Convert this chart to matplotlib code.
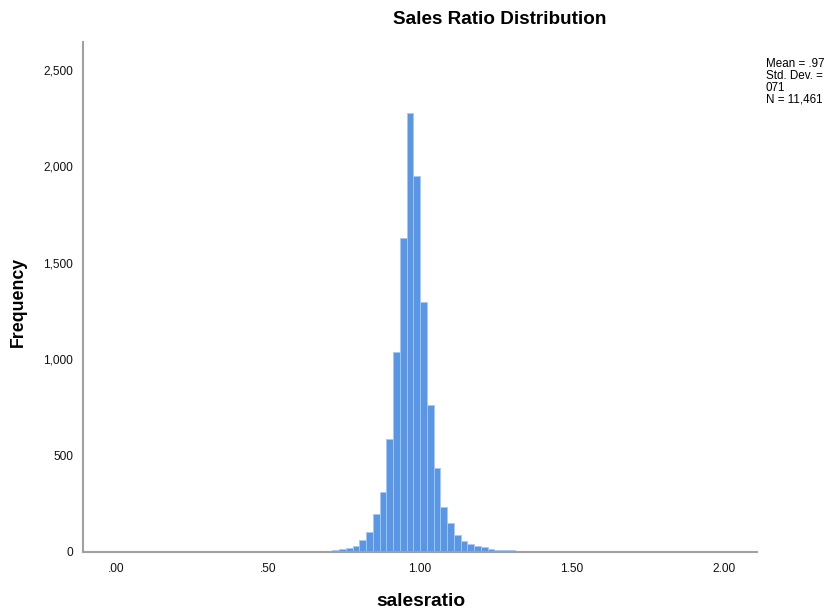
import matplotlib.pyplot as plt

plt.rcParams['font.family'] = ['Liberation Sans', 'DejaVu Sans']

# histogram bins: first left edge, bin width, counts per bin
first_edge = 0.3344
bin_width = 0.0222
counts = [1, 0, 0, 0, 0, 1, 0, 1, 1, 2,
          1, 2, 3, 3, 4, 5, 6, 11, 15, 21,
          30, 64, 104, 199, 312, 587, 1036, 1630, 2275, 1948,
          1294, 763, 438, 233, 148, 89, 56, 41, 32, 27,
          16, 11, 12, 9, 5, 4, 7, 3, 2, 2,
          1, 1, 0, 1, 0, 0, 0, 1, 0, 1,
          1, 1, 1]

x_ticks = [0.0, 0.5, 1.0, 1.5, 2.0]
x_labels = ['.00', '.50', '1.00', '1.50', '2.00']
y_ticks = [0, 500, 1000, 1500, 2000, 2500]
y_labels = ['0', '500', '1,000', '1,500', '2,000', '2,500']

edges = [first_edge + i * bin_width for i in range(len(counts))]

fig = plt.figure(figsize=(8.32, 6.12), dpi=100)
ax = fig.add_axes([83 / 832, 1 - 552 / 612, (757 - 83) / 832, (552 - 42) / 612])

ax.bar(edges, counts, width=bin_width, align='edge',
       color='#5a96e6', edgecolor='#a8c8f2', linewidth=0.6)

ax.set_xlim(-0.1086, 2.109)
ax.set_ylim(0, 2645)
ax.set_xticks(x_ticks)
ax.set_xticklabels(x_labels)
ax.set_yticks(y_ticks)
ax.set_yticklabels(y_labels)
ax.tick_params(length=0, labelsize=8.6, colors='#111111')
ax.tick_params(axis='x', pad=8)
ax.tick_params(axis='y', pad=7)

for side in ['top', 'right']:
    ax.spines[side].set_visible(False)
for side in ['left', 'bottom']:
    ax.spines[side].set_color('#a0a0a0')
    ax.spines[side].set_linewidth(1.5)

fig.text(500 / 832, 1 - 20 / 612, 'Sales Ratio Distribution', ha='center', va='center',
         fontsize=13.6, fontweight='bold')
fig.text(18 / 832, 1 - 302 / 612, 'Frequency', ha='center', va='center',
         rotation=90, fontsize=12.8, fontweight='bold')
fig.text(421 / 832, 1 - 601 / 612, 'salesratio', ha='center', va='center',
         fontsize=13.8, fontweight='bold')
fig.text(766 / 832, 1 - 58 / 612, 'Mean = .97\nStd. Dev. =\n071\nN = 11,461',
         ha='left', va='top', fontsize=8.4, linespacing=1.0)

fig.savefig('out.png', dpi=100)
